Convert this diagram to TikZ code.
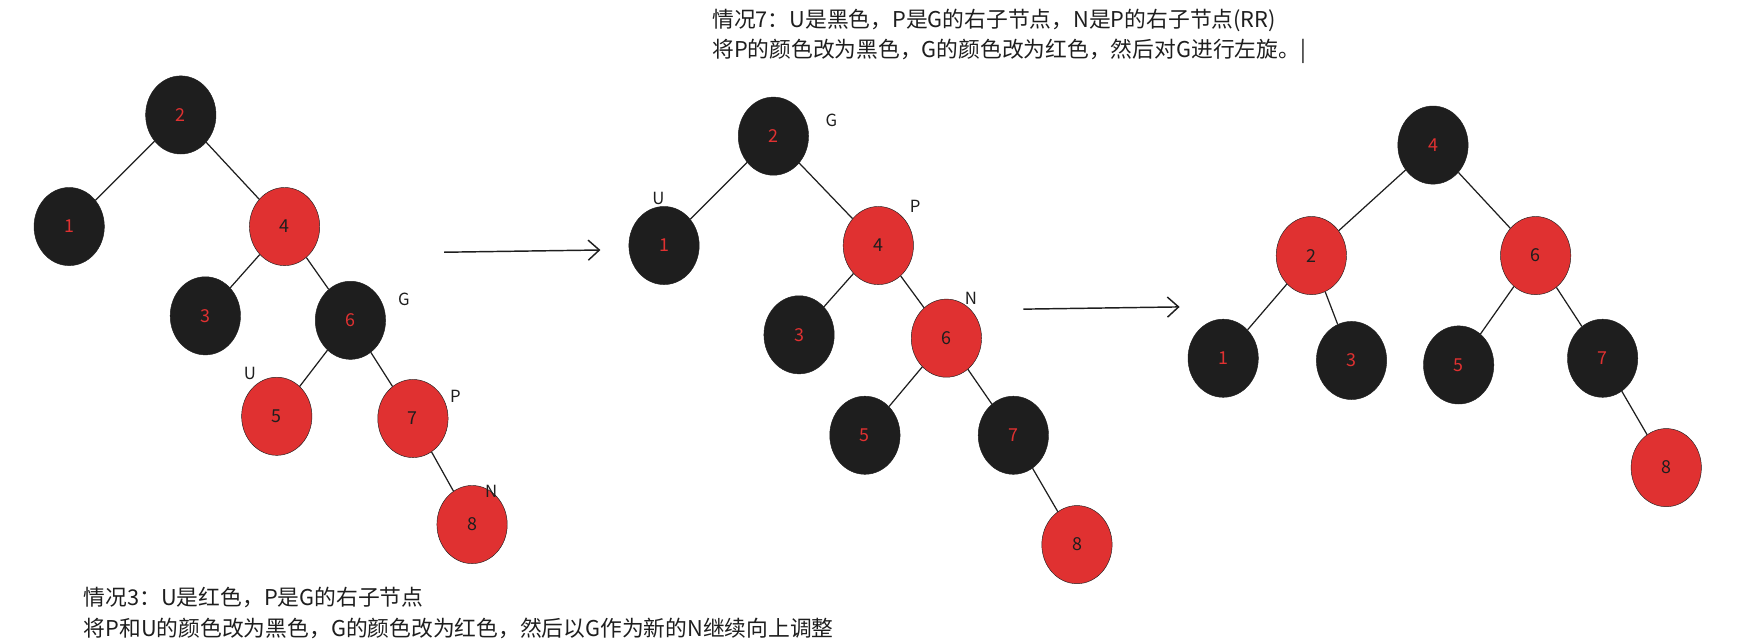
\documentclass[tikz,border=0pt]{standalone}
\usepackage{fontspec}
\usetikzlibrary{shapes.geometric,arrows.meta}
\setmainfont{Noto Sans CJK SC}
\definecolor{bk}{HTML}{1E1E1E}
\definecolor{rd}{HTML}{E03131}
\begin{document}
\begin{tikzpicture}[x=1pt,y=-1pt,
 bn/.style={ellipse,minimum width=63pt,minimum height=70pt,draw=bk,fill=bk,text=rd,inner sep=0pt,font=\fontsize{16}{16}\selectfont},
 rn/.style={ellipse,minimum width=63pt,minimum height=70pt,draw=bk,fill=rd,text=bk,inner sep=0pt,font=\fontsize{16}{16}\selectfont},
 edge/.style={draw=bk,line width=1.1pt},
 lab/.style={font=\fontsize{15}{15}\selectfont\itshape,text=bk},
 txt/.style={font=\fontsize{19.5}{20}\selectfont,text=bk,anchor=west,inner sep=0pt},
 arr/.style={draw=bk,line width=1.3pt,-{Straight Barb[length=10pt,width=18pt]}}]
\useasboundingbox (0,0) rectangle (1560,573);
% tree 1
\node[bn] (a2) at (162,103) {2};
\node[bn] (a1) at (62,203) {1};
\node[rn] (a4) at (255,203) {4};
\node[bn] (a3) at (184,283) {3};
\node[bn] (a6) at (314,287) {6};
\node[rn] (a5) at (248,373) {5};
\node[rn] (a7) at (370,375) {7};
\node[rn] (a8) at (423,470) {8};
\foreach \p/\c in {a2/a1,a2/a4,a4/a3,a4/a6,a6/a5,a6/a7,a7/a8} \draw[edge] (\p) -- (\c);
\node[lab] (ag) at (362,268) {G};
\node[lab] (au) at (224,335) {U};
\node[lab] (ap) at (408,355) {P};
\node[lab] (an) at (440,440) {N};
\coordinate (r1s) at (398,226); \coordinate (r1e) at (538,224);
\draw[arr] (r1s) -- (r1e);
% tree 2
\node[bn] (b2) at (693,122) {2};
\node[bn] (b1) at (595,220) {1};
\node[rn] (b4) at (787,220) {4};
\node[bn] (b3) at (716,300) {3};
\node[rn] (b6) at (848,303) {6};
\node[bn] (b5) at (775,390) {5};
\node[bn] (b7) at (908,390) {7};
\node[rn] (b8) at (965,488) {8};
\foreach \p/\c in {b2/b1,b2/b4,b4/b3,b4/b6,b6/b5,b6/b7,b7/b8} \draw[edge] (\p) -- (\c);
\node[lab] (bg) at (745,108) {G};
\node[lab] (bu) at (590,178) {U};
\node[lab] (bp) at (820,185) {P};
\node[lab] (bnl) at (870,267) {N};
\coordinate (r2s) at (917,277); \coordinate (r2e) at (1057,275);
\draw[arr] (r2s) -- (r2e);
% tree 3
\node[bn] (c4) at (1284,130) {4};
\node[rn] (c2) at (1175,229) {2};
\node[rn] (c6) at (1376,229) {6};
\node[bn] (c1) at (1096,321) {1};
\node[bn] (c3) at (1211,323) {3};
\node[bn] (c5) at (1307,327) {5};
\node[bn] (c7) at (1436,321) {7};
\node[rn] (c8) at (1493,419) {8};
\foreach \p/\c in {c4/c2,c4/c6,c2/c1,c2/c3,c6/c5,c6/c7,c7/c8} \draw[edge] (\p) -- (\c);
% texts
\node[txt] (t1) at (638,18) {情况7：U是黑色，P是G的右子节点，N是P的右子节点(RR)};
\node[txt] (t2) at (638,46) {将P的颜色改为黑色，G的颜色改为红色，然后对G进行左旋。|};
\node[txt] (t3) at (75,535) {情况3：U是红色，P是G的右子节点};
\node[txt] (t4) at (75,563) {将P和U的颜色改为黑色，G的颜色改为红色，然后以G作为新的N继续向上调整};
\end{tikzpicture}
\end{document}
